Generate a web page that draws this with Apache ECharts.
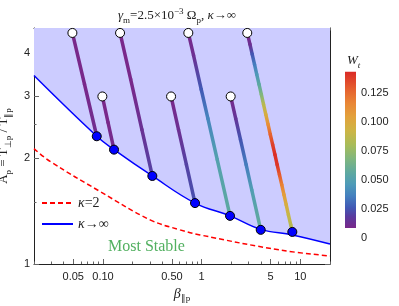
<!DOCTYPE html>
<html><head><meta charset="utf-8">
<script src="https://cdn.jsdelivr.net/npm/echarts@6/dist/echarts.min.js"></script>
<style>html,body{margin:0;padding:0;background:#fff}#c{width:399px;height:306px}</style>
</head><body><div id="c"></div>
<script>
// ---------- axis ranges and ticks ----------
const xRange = [0.02, 20];
const yRange = [1, 4.7];
const xMajor = [0.05, 0.1, 0.5, 1, 5, 10];
const xMajorLabels = ['0.05', '0.10', '0.50', '1', '5', '10'];
const xMinor = [0.02,0.03,0.04,0.06,0.07,0.08,0.09,0.2,0.3,0.4,0.6,0.7,0.8,0.9,2,3,4,6,7,8,9,20];
const yMajor = [1, 2, 3, 4];
const yMajorLabels = ['1', '2', '3', '4'];
const yMinor = [1.5, 2.5, 3.5, 4.5];

// ---------- threshold curves ----------
const kInfX = [0.02, 0.0865, 0.1294, 0.3165, 0.857, 1.94, 3.97, 8.3, 20];
const kInfA = [3.44, 2.311, 2.117, 1.781, 1.491, 1.371, 1.255, 1.21, 1.14];
const k2X = [0.02, 0.0291, 0.0934, 0.30, 0.604, 0.963, 6.23, 20];
const k2A = [2.131, 1.960, 1.609, 1.336, 1.251, 1.21, 1.096, 1.054];

// ---------- trajectories (beta, A, W) ----------
const trk1X = [0.049, 0.065, 0.0865];
const trk1A = [4.55, 3.25, 2.311];
const trk1W = [0.006, 0.008, 0.011];
const trk2X = [0.0986, 0.1125, 0.1294];
const trk2A = [3.0, 2.53, 2.117];
const trk2W = [0.007, 0.008, 0.010];
const trk3X = [0.149, 0.1907, 0.248, 0.3165];
const trk3A = [4.55, 3.36, 2.414, 1.781];
const trk3W = [0.006, 0.008, 0.013, 0.020];
const trk4X = [0.49, 0.583, 0.701, 0.857];
const trk4A = [3.0, 2.414, 1.918, 1.491];
const trk4W = [0.006, 0.012, 0.020, 0.024];
const trk5X = [0.733, 0.828, 0.991, 1.158, 1.439, 1.94];
const trk5A = [4.55, 3.93, 3.14, 2.596, 1.983, 1.371];
const trk5W = [0.005, 0.012, 0.026, 0.038, 0.050, 0.056];
const trk6X = [1.97, 2.216, 2.476, 2.825, 3.22, 3.97];
const trk6A = [3.0, 2.596, 2.261, 1.918, 1.627, 1.251];
const trk6W = [0.005, 0.015, 0.025, 0.035, 0.048, 0.058];
const trk7X = [2.9, 3.09, 3.257, 3.436, 3.618, 3.818, 4.027, 4.24, 4.474, 4.72, 4.969, 5.244, 5.533, 5.824, 6.145, 6.484, 6.826, 7.202, 7.58, 8.0, 8.3];
const trk7A = [4.55, 4.224, 3.956, 3.703, 3.467, 3.246, 3.04, 2.847, 2.665, 2.495, 2.336, 2.188, 2.048, 1.918, 1.796, 1.682, 1.575, 1.474, 1.38, 1.292, 1.234];
const trk7W = [0.004, 0.012, 0.025, 0.035, 0.045, 0.055, 0.068, 0.085, 0.097, 0.112, 0.127, 0.137, 0.142, 0.14, 0.13, 0.118, 0.106, 0.097, 0.09, 0.085, 0.083];

// ---------- colour bar ----------
const wTicks = [0, 0.025, 0.05, 0.075, 0.1, 0.125];
const wTickLabels = ['0', '0.025', '0.050', '0.075', '0.100', '0.125'];
const wBar = [0.0084, 0.143];
const wAxisMax = 0.143;

// ---------- style ----------
const palette = [
  [0.008, '#79288a'], [0.018, '#5a3a9e'], [0.026, '#4159b5'], [0.036, '#4480bf'],
  [0.046, '#4e9bb8'], [0.056, '#5ea9a0'], [0.068, '#80b67e'], [0.080, '#a8bc58'],
  [0.092, '#cdb545'], [0.104, '#e2a23c'], [0.116, '#e98636'], [0.128, '#e5602f'],
  [0.143, '#da2a26']
];
function hex2rgb(h){return [parseInt(h.slice(1,3),16),parseInt(h.slice(3,5),16),parseInt(h.slice(5,7),16)];}
function colorAt(w){
  if (w <= palette[0][0]) return palette[0][1];
  for (let i = 1; i < palette.length; i++) {
    if (w <= palette[i][0]) {
      const t = (w - palette[i-1][0]) / (palette[i][0] - palette[i-1][0]);
      const a = hex2rgb(palette[i-1][1]), b = hex2rgb(palette[i][1]);
      return 'rgb(' + a.map((v,k)=>Math.round(v + (b[k]-v)*t)).join(',') + ')';
    }
  }
  return palette[palette.length-1][1];
}
const lg = Math.log10;
const serif = 'Liberation Serif';
const sans = 'Liberation Sans';
const frameColor = '#222';
const tickColor = '#666';

const tracks = [
  [trk1X, trk1A, trk1W], [trk2X, trk2A, trk2W], [trk3X, trk3A, trk3W], [trk4X, trk4A, trk4W],
  [trk5X, trk5A, trk5W], [trk6X, trk6A, trk6W], [trk7X, trk7A, trk7W]
];
const segData = [];
tracks.forEach(([xs, as, ws]) => {
  for (let i = 0; i < xs.length - 1; i++) segData.push([xs[i], as[i], xs[i+1], as[i+1], ws[i], ws[i+1]]);
});
const startPts = tracks.map(t => [t[0][0], t[1][0]]);
const endPts = tracks.map(t => [t[0][t[0].length-1], t[1][t[1].length-1]]);

const zip = (a, b) => a.map((v, i) => [v, b[i]]);
function lookup(vals, labels){ return v => { for (let i=0;i<vals.length;i++) if (Math.abs(lg(vals[i]) - v) < 1e-6) return labels[i]; return ''; }; }

const base = {fontFamily: serif, fontWeight: 'normal', color: '#222'};
const subRich = {
  n: Object.assign({fontSize: 13, lineHeight: 18}, base),
  i: Object.assign({fontSize: 13, fontStyle: 'italic', lineHeight: 18}, base),
  s: Object.assign({fontSize: 9, lineHeight: 10, verticalAlign: 'bottom'}, base),
  si: Object.assign({fontSize: 9, fontStyle: 'italic', lineHeight: 10, verticalAlign: 'bottom'}, base),
  p: Object.assign({fontSize: 9, lineHeight: 10, verticalAlign: 'top'}, base)
};

function xTickAxis(pos, vals, len, withLabels, withLine){
  return {
    type: 'value', gridIndex: 0, position: pos, min: lg(xRange[0]), max: lg(xRange[1]),
    axisLine: {show: withLine, onZero: false, lineStyle: {color: frameColor, width: 1}},
    axisTick: {show: true, inside: true, length: len, customValues: vals.map(lg), lineStyle: {color: tickColor, width: 1}},
    axisLabel: {show: withLabels, customValues: xMajor.map(lg), formatter: lookup(xMajor, xMajorLabels), margin: 7,
      fontFamily: sans, fontSize: 11, color: '#222'},
    splitLine: {show: false}
  };
}
function yTickAxis(pos, vals, len, withLabels, withLine){
  return {
    type: 'value', gridIndex: 0, position: pos, min: lg(yRange[0]), max: lg(yRange[1]),
    axisLine: {show: withLine, onZero: false, lineStyle: {color: frameColor, width: 1}},
    axisTick: {show: true, inside: true, length: len, customValues: vals.map(lg), lineStyle: {color: tickColor, width: 1}},
    axisLabel: {show: withLabels, customValues: yMajor.map(lg), formatter: lookup(yMajor, yMajorLabels), margin: 4,
      fontFamily: sans, fontSize: 11, color: '#222'},
    splitLine: {show: false}
  };
}

const xAx1 = xTickAxis('bottom', xMajor, 5, true, true);
xAx1.name = '{i|β}{s|∥p}';
xAx1.nameLocation = 'middle';
xAx1.nameGap = 15;
xAx1.nameTextStyle = {rich: Object.assign({}, subRich, {i: Object.assign({fontSize: 14, fontStyle: 'italic', lineHeight: 18}, base)})};

const yAx1 = yTickAxis('left', yMajor, 5, true, true);
yAx1.name = '{n|A}{s|p}{n| = T}{s|⊥p}{n| / T}{s|∥p}';
yAx1.nameLocation = 'middle';
yAx1.nameGap = 11;
yAx1.nameTextStyle = {rich: subRich};

const chart = echarts.init(document.getElementById('c'), null, {renderer: 'canvas'});
chart.setOption({
  animation: false,
  backgroundColor: '#fff',
  title: [
    {text: '{i|γ}{s|m}{n|=2.5×10}{p|−3}{n| Ω}{s|p}{n|, }{i|κ}{n|→∞}', left: 113, top: 2,
     textStyle: {fontWeight: 'normal', rich: subRich}},
    {text: '{i|W}{si|t}', left: 342, top: 47, textStyle: {fontWeight: 'normal', rich: subRich}}
  ],
  grid: [
    {left: 34, right: 69, top: 28, bottom: 42, outerBoundsMode: 'none', containLabel: false},
    {left: 345, width: 11, top: 71.7, height: 166, outerBoundsMode: 'none', containLabel: false}
  ],
  legend: {
    data: ['κ=2', 'κ→∞'], orient: 'vertical', left: 36, top: 191, itemWidth: 31, itemHeight: 14, itemGap: 7,
    itemStyle: {opacity: 0},
    formatter: n => n === 'κ=2' ? '{i|κ}{n|=2}' : '{i|κ}{n|→∞}',
    textStyle: {rich: {n: Object.assign({fontSize: 14}, base), i: Object.assign({fontSize: 14, fontStyle: 'italic'}, base)}},
    selectedMode: false
  },
  xAxis: [
    {type: 'log', logBase: 10, gridIndex: 0, min: xRange[0], max: xRange[1], show: false},
    xAx1,
    xTickAxis('bottom', xMinor, 2.5, false, false),
    xTickAxis('top', xMajor, 5, false, true),
    xTickAxis('top', xMinor, 2.5, false, false),
    {type: 'value', gridIndex: 1, min: 0, max: 1, show: false}
  ],
  yAxis: [
    {type: 'log', logBase: 10, gridIndex: 0, min: yRange[0], max: yRange[1], show: false},
    yAx1,
    yTickAxis('left', yMinor, 2.5, false, false),
    yTickAxis('right', yMajor, 5, false, true),
    yTickAxis('right', yMinor, 2.5, false, false),
    {type: 'value', gridIndex: 1, min: 0, max: wAxisMax, position: 'right',
     axisLine: {show: false, onZero: false}, axisTick: {show: false}, splitLine: {show: false},
     axisLabel: {customValues: wTicks, formatter: v => { const i = wTicks.findIndex(t => Math.abs(t - v) < 1e-9); return i >= 0 ? wTickLabels[i] : ''; },
       margin: 5, fontFamily: sans, fontSize: 11, color: '#222'}}
  ],
  graphic: [
    {type: 'text', left: 108, top: 239, style: {text: 'Most Stable', fontFamily: serif, fontSize: 16, fill: '#52b060'}}
  ],
  series: [
    {name: 'κ→∞', type: 'line', xAxisIndex: 0, yAxisIndex: 0, data: zip(kInfX, kInfA), smooth: 0.4,
     symbol: 'none', lineStyle: {color: '#0000ff', width: 1.5}, itemStyle: {color: '#0000ff'},
     areaStyle: {origin: 'end', color: '#ccccff', opacity: 1}, z: 1},
    {name: 'κ=2', type: 'line', xAxisIndex: 0, yAxisIndex: 0, data: zip(k2X, k2A), smooth: 0.4,
     symbol: 'none', lineStyle: {color: '#ff0000', width: 1.5, type: [5, 3]}, itemStyle: {color: '#ff0000'}, z: 2},
    {name: 'tracks', type: 'custom', xAxisIndex: 0, yAxisIndex: 0, data: segData, z: 3,
     renderItem: (params, api) => {
       const p1 = api.coord([api.value(0), api.value(1)]);
       const p2 = api.coord([api.value(2), api.value(3)]);
       const c1 = colorAt(api.value(4)), c2 = colorAt(api.value(5));
       return {type: 'line', shape: {x1: p1[0], y1: p1[1], x2: p2[0], y2: p2[1]},
         style: {stroke: new echarts.graphic.LinearGradient(p1[0], p1[1], p2[0], p2[1] + 0.001, [{offset: 0, color: c1}, {offset: 1, color: c2}], true),
           lineWidth: 3.5, lineCap: 'round'}};
     }},
    {name: 'start', type: 'scatter', xAxisIndex: 0, yAxisIndex: 0, data: startPts, symbolSize: 9, z: 5,
     itemStyle: {color: '#ffffff', borderColor: '#000', borderWidth: 1, opacity: 1}},
    {name: 'end', type: 'scatter', xAxisIndex: 0, yAxisIndex: 0, data: endPts, symbolSize: 9, z: 5,
     itemStyle: {color: '#0000ff', borderColor: '#000', borderWidth: 1, opacity: 1}},
    {name: 'colorbar', type: 'custom', xAxisIndex: 5, yAxisIndex: 5, data: [[0, wBar[0], 1, wBar[1]]],
     renderItem: (params, api) => {
       const lo = api.value(1), hi = api.value(3);
       const p0 = api.coord([api.value(0), lo]);
       const p1 = api.coord([api.value(2), hi]);
       const stops = palette.map(([w, c]) => ({offset: Math.min(1, Math.max(0, (w - lo) / (hi - lo))), color: c}));
       return {type: 'rect', shape: {x: p0[0], y: p1[1], width: p1[0] - p0[0], height: p0[1] - p1[1]},
         style: {fill: new echarts.graphic.LinearGradient(0, 1, 0, 0, stops)}};
     }}
  ]
});
</script></body></html>
